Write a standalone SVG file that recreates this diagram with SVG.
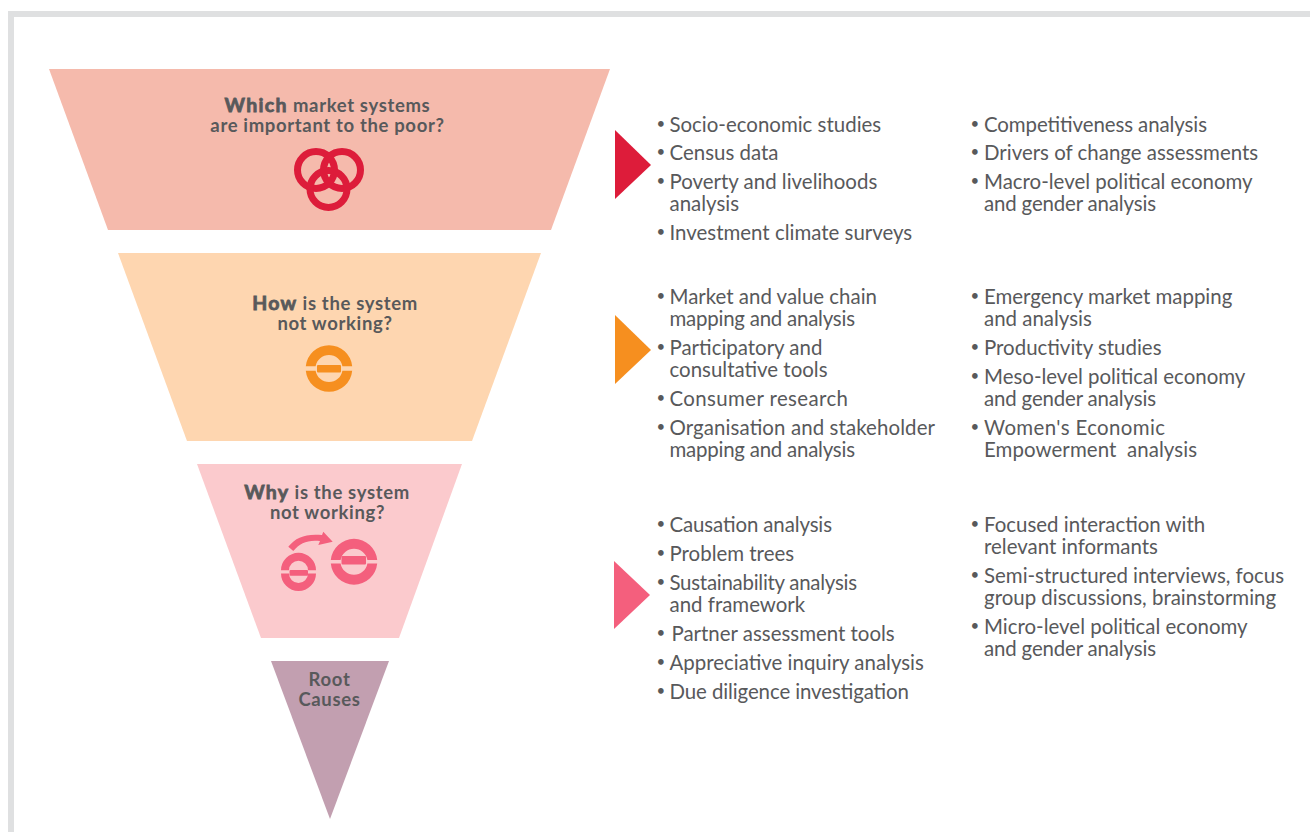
<svg xmlns="http://www.w3.org/2000/svg" width="1310" height="832" viewBox="0 0 1310 832">
<style>
text{font-family:"Lato","Open Sans",sans-serif;fill:#58595b}
.h{font-size:18.5px;font-weight:700;text-anchor:middle;letter-spacing:.65px}
.b{font-size:19.5px;stroke:#58595b;stroke-width:.8px;letter-spacing:1.3px}
.l{font-size:20.45px}
.d{font-size:15px}
</style>
<rect width="1310" height="832" fill="#fff"/>
<path d="M11 832V14H1310" fill="none" stroke="#dfe0e1" stroke-width="6"/>
<g id="funnel-which">
<polygon points="49,69 610,69 551,230 108,230" fill="#f5baac"/>
<text class="h" x="327.500" y="112"><tspan class="b">Which</tspan> market systems</text>
<text class="h" x="327.500" y="132">are important to the poor?</text>
<g fill="none" stroke="#dd1c3a" stroke-width="7">
<circle cx="316" cy="170" r="18.500"/><circle cx="342" cy="170" r="18.500"/><circle cx="328.500" cy="189" r="18.500"/>
</g>
</g>
<g id="funnel-how">
<polygon points="118,253 541,253 472,441 187,441" fill="#fed6b0"/>
<text class="h" x="335" y="309.500"><tspan class="b">How</tspan> is the system</text>
<text class="h" x="335" y="329.500">not working?</text>
<path d="M305.800 366.300A23.300 23.300 0 0 1 352.200 366.300H342.400A13.600 13.600 0 0 0 315.600 366.300ZM305.800 370.700A23.300 23.300 0 0 0 352.200 370.700H342.400A13.600 13.600 0 0 1 315.600 370.700Z" fill="#f68f1f"/>
<rect x="317" y="365" width="24" height="7.500" rx="1" fill="#f68f1f"/>
</g>
<g id="funnel-why">
<polygon points="197,464 462,464 399,638 261,638" fill="#fbcacd"/>
<text class="h" x="327" y="499"><tspan class="b">Why</tspan> is the system</text>
<text class="h" x="327.500" y="519">not working?</text>
<g fill="#f45f7d">
<path d="M330.800 560A23.300 23.300 0 0 1 377.200 560H367.400A13.600 13.600 0 0 0 340.600 560ZM330.800 563.500A23.300 23.300 0 0 0 377.200 563.500H367.400A13.600 13.600 0 0 1 340.600 563.500Z"/>
<rect x="341.500" y="556" width="24.500" height="8.500" rx="1"/>
<path d="M281 570.300A17.500 17.500 0 0 1 316 570.300H308A9.500 9.500 0 0 0 289 570.300ZM281 573.500A17.500 17.500 0 0 0 316 573.500H308A9.500 9.500 0 0 1 289 573.500Z"/>
<rect x="289.500" y="570" width="18.500" height="5.700" rx="1"/>
<path d="M288.300 546.700C296 537 306 533.500 322 535L323.300 531.700L332.700 541.700L318.300 545L320 541C308 539.500 300 543 293.300 551Z"/>
</g>
</g>
<g id="funnel-root">
<polygon points="271,661 389,661 330,819" fill="#c29fb0"/>
<text class="h" x="329.500" y="686">Root</text>
<text class="h" x="329.500" y="706">Causes</text>
</g>
<g id="connectors">
<polygon points="615,130 651,165 615,199" fill="#dd1c3a"/>
<polygon points="615,315 651,350 615,384" fill="#f68f1f"/>
<polygon points="614,561 650,595 614,629" fill="#f45f7d"/>
</g>
<g id="list-1">
<text class="d" x="656.600" y="129">•</text><text class="l" x="669.500" y="131.500">Socio-economic studies</text>
<text class="d" x="656.600" y="157">•</text><text class="l" x="669.500" y="159.500">Census data</text>
<text class="d" x="656.600" y="186">•</text><text class="l" x="669.500" y="188.500">Poverty and livelihoods</text>
<text class="l" x="669.500" y="210.500">analysis</text>
<text class="d" x="656.600" y="237">•</text><text class="l" x="669.500" y="239.500">Investment climate surveys</text>
<text class="d" x="970.600" y="129">•</text><text class="l" x="984" y="131.500" textLength="223">Competitiveness analysis</text>
<text class="d" x="970.600" y="157">•</text><text class="l" x="984" y="159.500">Drivers of change assessments</text>
<text class="d" x="970.600" y="186">•</text><text class="l" x="984" y="188.500">Macro-level political economy</text>
<text class="l" x="984" y="210.500" textLength="172">and gender analysis</text>
</g>
<g id="list-2">
<text class="d" x="656.600" y="301">•</text><text class="l" x="669.500" y="303.500">Market and value chain</text>
<text class="l" x="669.500" y="325.500" textLength="185.500">mapping and analysis</text>
<text class="d" x="656.600" y="352">•</text><text class="l" x="669.500" y="354.500">Participatory and</text>
<text class="l" x="669.500" y="376.500">consultative tools</text>
<text class="d" x="656.600" y="403">•</text><text class="l" x="669.500" y="405.500" textLength="178.500">Consumer research</text>
<text class="d" x="656.600" y="432">•</text><text class="l" x="669.500" y="434.500" textLength="265.500">Organisation and stakeholder</text>
<text class="l" x="669.500" y="456.500" textLength="185.500">mapping and analysis</text>
<text class="d" x="970.600" y="301">•</text><text class="l" x="984" y="303.500">Emergency market mapping</text>
<text class="l" x="984" y="325.500">and analysis</text>
<text class="d" x="970.600" y="352">•</text><text class="l" x="984" y="354.500">Productivity studies</text>
<text class="d" x="970.600" y="381">•</text><text class="l" x="984" y="383.500">Meso-level political economy</text>
<text class="l" x="984" y="405.500" textLength="172">and gender analysis</text>
<text class="d" x="970.600" y="432">•</text><text class="l" x="984" y="434.500" textLength="181">Women's Economic</text>
<text class="l" x="984" y="456.500" xml:space="preserve" textLength="213">Empowerment  analysis</text>
</g>
<g id="list-3">
<text class="d" x="656.600" y="529">•</text><text class="l" x="669.500" y="531.500" textLength="162.500">Causation analysis</text>
<text class="d" x="656.600" y="558">•</text><text class="l" x="669.500" y="560.500">Problem trees</text>
<text class="d" x="656.600" y="587">•</text><text class="l" x="669.500" y="589.500" textLength="187.500">Sustainability analysis</text>
<text class="l" x="669.500" y="611.500">and framework</text>
<text class="d" x="656.600" y="638">•</text><text class="l" x="671.500" y="640.500">Partner assessment tools</text>
<text class="d" x="656.600" y="667">•</text><text class="l" x="669.500" y="669.500">Appreciative inquiry analysis</text>
<text class="d" x="656.600" y="696">•</text><text class="l" x="669.500" y="698.500" textLength="239.500">Due diligence investigation</text>
<text class="d" x="970.600" y="529">•</text><text class="l" x="984" y="531.500">Focused interaction with</text>
<text class="l" x="984" y="553.500">relevant informants</text>
<text class="d" x="970.600" y="580">•</text><text class="l" x="984" y="582.500">Semi-structured interviews, focus</text>
<text class="l" x="984" y="604.500">group discussions, brainstorming</text>
<text class="d" x="970.600" y="631">•</text><text class="l" x="984" y="633.500">Micro-level political economy</text>
<text class="l" x="984" y="655.500" textLength="172">and gender analysis</text>
</g>
</svg>
